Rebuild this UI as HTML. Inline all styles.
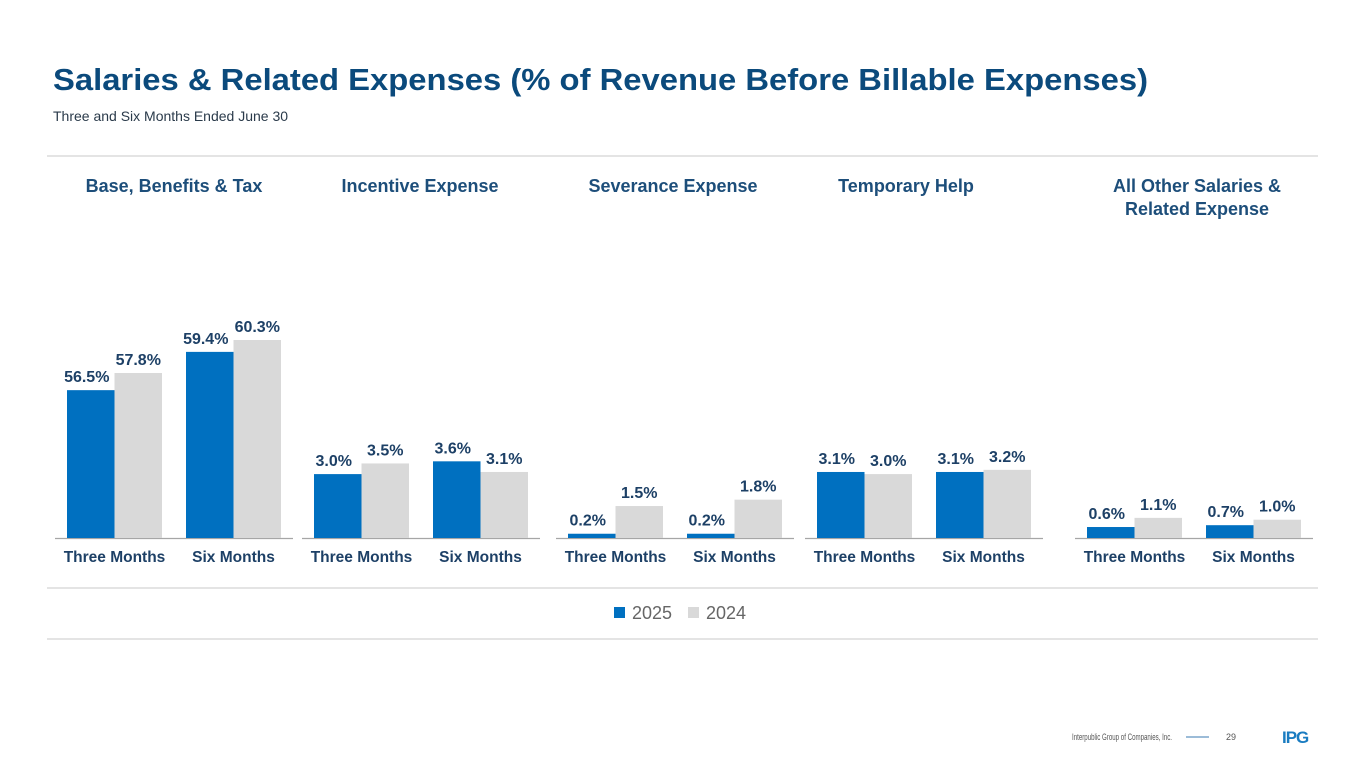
<!DOCTYPE html>
<html><head><meta charset="utf-8"><style>
html,body{margin:0;padding:0;background:#fff;}
svg{display:block;font-family:"Liberation Sans",sans-serif;}
</style></head><body>
<svg id="chart" width="1365" height="768" viewBox="0 0 1365 768">
<text x="53" y="90" font-size="31" font-weight="bold" fill="#0b4a7c" textLength="1095" lengthAdjust="spacingAndGlyphs">Salaries &amp; Related Expenses (% of Revenue Before Billable Expenses)</text>
<text x="53" y="121" font-size="14" fill="#2a3a4a">Three and Six Months Ended June 30</text>
<line x1="47" y1="156" x2="1318" y2="156" stroke="#dcdcdc" stroke-width="1.5"/>
<line x1="47" y1="588" x2="1318" y2="588" stroke="#dcdcdc" stroke-width="1.5"/>
<line x1="47" y1="639" x2="1318" y2="639" stroke="#dcdcdc" stroke-width="1.5"/>
<g id="panels"></g>
<g>
<rect x="614" y="607" width="11" height="11" fill="#0070c0"/>
<text x="632" y="619" font-size="18" fill="#666">2025</text>
<rect x="688" y="607" width="11" height="11" fill="#d9d9d9"/>
<text x="706" y="619" font-size="18" fill="#666">2024</text>
</g>
<text x="1072" y="740" font-size="9" fill="#555" textLength="100" lengthAdjust="spacingAndGlyphs">Interpublic Group of Companies, Inc.</text>
<line x1="1186" y1="737" x2="1209" y2="737" stroke="#3a7ab0" stroke-width="1"/>
<text x="1226" y="740" font-size="9" fill="#555">29</text>
<text x="1282" y="743" font-size="17" font-weight="bold" fill="#1a7cc1" letter-spacing="-1">IPG</text>
</svg>
<script>
const panelTitles = [["Base, Benefits & Tax"],["Incentive Expense"],["Severance Expense"],["Temporary Help"],["All Other Salaries &","Related Expense"]];
const categories = ["Three Months","Six Months"];
const values2025 = [[56.5,59.4],[3.0,3.6],[0.2,0.2],[3.1,3.1],[0.6,0.7]];
const values2024 = [[57.8,60.3],[3.5,3.1],[1.5,1.8],[3.0,3.2],[1.1,1.0]];
const axisMin = [45.3,0,0,0,0];
const axisPxPerUnit = [13.2,21.3,21.3,21.3,18.3];

const NS="http://www.w3.org/2000/svg";
const g=document.getElementById('panels');
const panelLeft=[55,302,556,805,1075];
const axisW=238, barW=47.5, baseY=538;
const titleCx=[174,420,673,906,1197];
function mk(tag,attrs,txt){const e=document.createElementNS(NS,tag);for(const k in attrs)e.setAttribute(k,attrs[k]);if(txt!=null)e.textContent=txt;return e;}
function yScale(p,v){return baseY-(v-axisMin[p])*axisPxPerUnit[p];}
for(let p=0;p<panelTitles.length;p++){
  const L=panelLeft[p];
  panelTitles[p].forEach((t,i)=>{
    const e=mk('text',{x:titleCx[p],y:192+i*23,'font-size':18,'font-weight':'bold',fill:'#1d4e7a','text-anchor':'middle'},t);
    
    
    g.appendChild(e);
  });
  const ax=mk('line',{x1:L,y1:baseY+0.5,x2:L+axisW,y2:baseY+0.5,stroke:'#a6a6a6','stroke-width':1.2});
  
  
  g.appendChild(ax);
  categories.forEach((c,ci)=>{
    const gx=L+12+ci*119;
    [[values2025,'#0070c0'],[values2024,'#d9d9d9']].forEach((s,si)=>{
      const v=s[0][p][ci];
      const x=gx+si*barW, y=yScale(p,v);
      const r=mk('rect',{x:x,y:y,width:barW,height:baseY-y,fill:s[1]});
      
      
      g.appendChild(r);
      const lt=mk('text',{x:x+barW/2+(si?0:-4),y:y-8,'font-size':16,'font-weight':'bold',fill:'#1d4066','text-anchor':'middle'},v.toFixed(1)+'%');
      
      
      g.appendChild(lt);
    });
    const cl=mk('text',{x:gx+barW,y:562,'font-size':15.5,'font-weight':'bold',fill:'#1d4066','text-anchor':'middle'},c);
    
    
    g.appendChild(cl);
  });
}
</script>
</body></html>
